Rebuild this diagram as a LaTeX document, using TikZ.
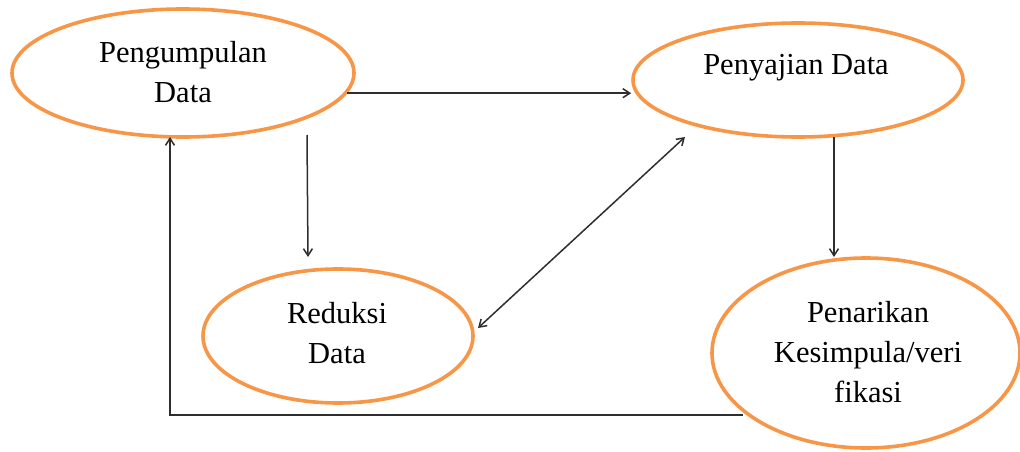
\documentclass[tikz,border=0pt]{standalone}
\usepackage{fontspec}
\setmainfont{Liberation Serif}
\usetikzlibrary{shapes.geometric,arrows.meta,calc}
\definecolor{ringorange}{HTML}{F79646}
\definecolor{linkgray}{HTML}{2E2E2E}
\begin{document}
\begin{tikzpicture}[x=1pt,y=-1pt,
  ring/.style={ellipse,draw=ringorange,line width=3.6pt,inner sep=0pt,outer sep=1.8pt},
  lbl/.style={align=center,inner sep=0pt,font=\fontsize{30.5}{40}\selectfont},
  link/.style={draw=linkgray,line width=1.5pt,-{Straight Barb[length=7pt,width=9pt]}},
  biglink/.style={draw=linkgray,line width=1.5pt,{Straight Barb[length=7pt,width=9pt]}-{Straight Barb[length=7pt,width=9pt]}}]
\useasboundingbox (0,0) rectangle (1020,452);

% the four stages
\node[ring,minimum width=342pt,minimum height=128pt] (e1) at (183,73) {};
\node[ring,minimum width=330pt,minimum height=114pt] (e2) at (798,80) {};
\node[ring,minimum width=270pt,minimum height=134pt] (e3) at (338,336) {};
\node[ring,minimum width=308pt,minimum height=190pt] (e4) at (866,353) {};

\node[lbl] (t1) at (183,72.5) {Pengumpulan\\Data};
\node[lbl] (t2) at (796,68) {Penyajian Data};
\node[lbl] (t3) at (337,333) {Reduksi\\Data};
\node[lbl] (t4) at (868,352.5) {Penarikan\\Kesimpula/veri\\fikasi};

% connector end points
\coordinate (a1) at (e1.-7);
\coordinate (b1) at (307,135);
\coordinate (b2) at (308,257);
\coordinate (c1) at (685,137);
\coordinate (c2) at (478,328);
\coordinate (d1) at (834,137);
\coordinate (d2) at (834,257);
\coordinate (r1) at (743,415);
\coordinate (r2) at (170,415);
\coordinate (r3) at (170,137);

% connectors
\draw[link] (a1) -- (a1 -| e2.west);
\draw[link] (b1) -- (b2);
\draw[biglink] (c2) -- (c1);
\draw[link] (d1) -- (d2);
\draw[link] (r1) -- (r2) -- (r3);
\end{tikzpicture}
\end{document}
